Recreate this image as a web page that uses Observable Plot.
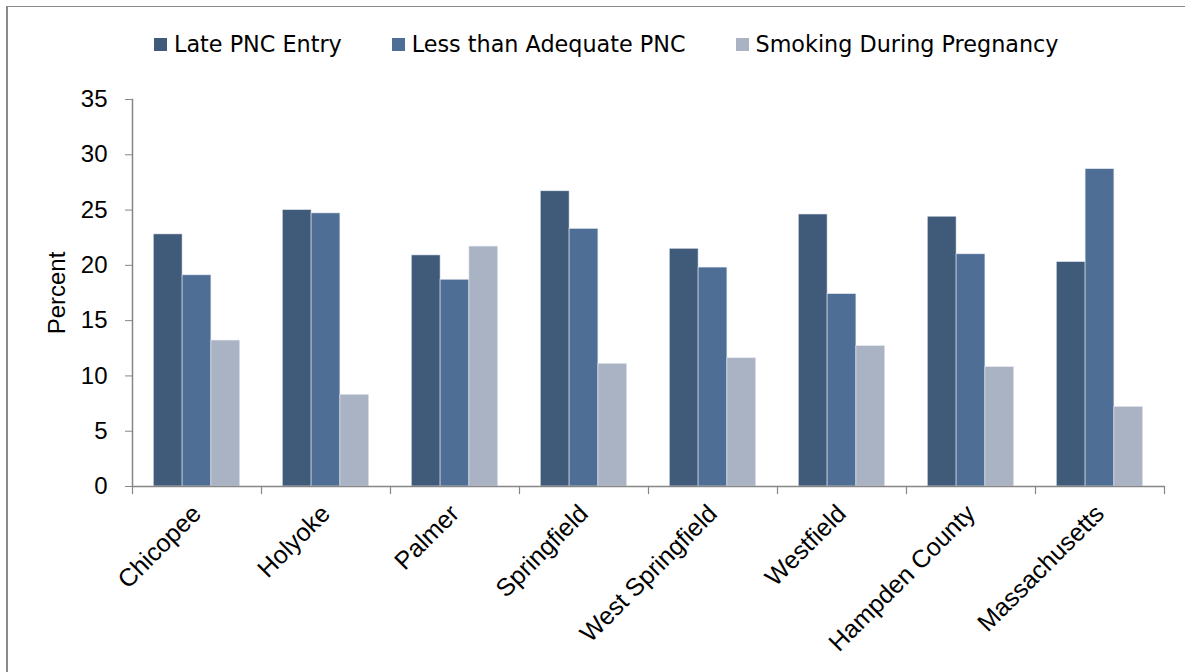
<!DOCTYPE html>
<html>
<head>
<meta charset="utf-8">
<script src="https://cdn.jsdelivr.net/npm/d3@7"></script>
<script src="https://cdn.jsdelivr.net/npm/@observablehq/plot@0.6"></script>
<style>
  html, body { margin: 0; padding: 0; background: #fff; }
  #wrap { position: relative; width: 1185px; height: 672px; overflow: hidden; }
  #border { position: absolute; left: 6px; top: 6px; width: 1300px; height: 800px;
            border-left: 2px solid #8a8a8a; border-top: 1px solid #8a8a8a; }
  #legend { position: absolute; left: 154px; top: 31px; display: flex; gap: 50px;
            font-family: "DejaVu Sans", sans-serif; font-size: 22.3px; color: #000; }
  #legend .item { display: flex; align-items: center; gap: 7px; }
  #legend .sw { width: 13px; height: 13px; display: inline-block; }
  #chart { position: absolute; left: 0; top: 0; }
</style>
</head>
<body>
<div id="wrap">
  <div id="border"></div>
  <div id="chart"></div>
  <div id="legend"></div>
</div>
<script>
const categories = ["Chicopee", "Holyoke", "Palmer", "Springfield", "West Springfield", "Westfield", "Hampden County", "Massachusetts"];
const seriesNames = ["Late PNC Entry", "Less than Adequate PNC", "Smoking During Pregnancy"];
const latePNCEntry = [22.8, 25.0, 20.9, 26.7, 21.5, 24.6, 24.4, 20.3];
const lessThanAdequatePNC = [19.1, 24.7, 18.7, 23.3, 19.8, 17.4, 21.0, 28.7];
const smokingDuringPregnancy = [13.2, 8.3, 21.7, 11.1, 11.6, 12.7, 10.8, 7.2];
const seriesColors = ["#405A7A", "#4F6E95", "#AAB3C3"];
const yTicks = [0, 5, 10, 15, 20, 25, 30, 35];

const seriesValues = [latePNCEntry, lessThanAdequatePNC, smokingDuringPregnancy];
const data = categories.flatMap((c, i) =>
  seriesNames.map((s, j) => ({category: c, series: s, value: seriesValues[j][i]})));

// legend
const legend = document.getElementById("legend");
seriesNames.forEach((s, j) => {
  const item = document.createElement("div");
  item.className = "item";
  const sw = document.createElement("span");
  sw.className = "sw";
  sw.style.background = seriesColors[j];
  const t = document.createElement("span");
  t.textContent = s;
  item.appendChild(sw); item.appendChild(t);
  legend.appendChild(item);
});

const axisColor = "#868686";
const plotHeightInner = 486 - 99;

const chart = Plot.plot({
  width: 1185,
  height: 672,
  marginTop: 99,
  marginBottom: 672 - 486,
  marginLeft: 132,
  marginRight: 21,
  style: {fontFamily: "'Liberation Sans', Arial, sans-serif", fontSize: "24px", color: "#000", background: "transparent", overflow: "visible"},
  fx: {domain: categories, paddingInner: 0, paddingOuter: 0, round: false, label: null},
  x: {domain: seriesNames, paddingInner: 0, paddingOuter: 0.738, round: false, axis: null},
  y: {domain: [0, 35], ticks: yTicks, label: "Percent"},
  color: {domain: seriesNames, range: seriesColors},
  marks: [
    Plot.barY(data, {fx: "category", x: "series", y: "value", fill: "series", stroke: "#e6eaf0", strokeWidth: 0.6}),
    Plot.ruleY([0], {stroke: axisColor, strokeWidth: 1.5}),
    Plot.frame({anchor: "left", stroke: axisColor, strokeWidth: 1.2, insetTop: plotHeightInner, insetBottom: -7}),
    Plot.frame({anchor: "right", stroke: axisColor, strokeWidth: 1.2, insetTop: plotHeightInner, insetBottom: -7, fx: [categories[categories.length - 1]]}),
    Plot.frame({anchor: "left", stroke: axisColor, strokeWidth: 1.5, fx: [categories[0]]}),
    Plot.axisY({ticks: yTicks, tickSize: 7, tickPadding: 18, stroke: axisColor, fontSize: 24, fill: "#000",
                label: "Percent", labelAnchor: "center", labelOffset: 85, labelArrow: false}),
    Plot.axisFx({anchor: "bottom", tickSize: 0, tickRotate: -45, tickPadding: 23, fontSize: 25, fill: "#000", label: null})
  ]
});
document.getElementById("chart").appendChild(chart);
</script>
</body>
</html>
